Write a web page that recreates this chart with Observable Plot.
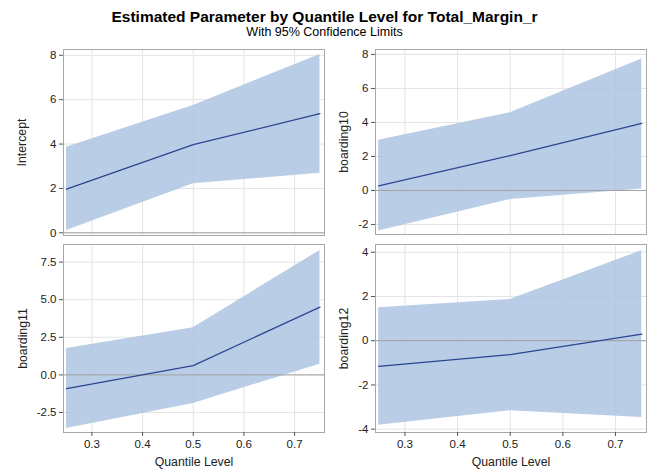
<!DOCTYPE html>
<html>
<head>
<meta charset="utf-8">
<script src="https://cdn.jsdelivr.net/npm/d3@7"></script>
<script src="https://cdn.jsdelivr.net/npm/@observablehq/plot@0.6"></script>
<style>
  html, body { margin: 0; padding: 0; background: #fff; }
  #wrap { position: relative; width: 649px; height: 470px; font-family: "Liberation Sans", Arial, sans-serif; overflow: hidden; }
  #title { position: absolute; left: 0; top: 8px; width: 649px; text-align: center; font-weight: bold; font-size: 15.5px; line-height: 18px; color: #000; }
  #subtitle { position: absolute; left: 0; top: 25px; width: 649px; text-align: center; font-size: 12.5px; line-height: 15px; color: #000; }
  .panel { position: absolute; }
</style>
</head>
<body>
<div id="wrap">
  <div id="title">Estimated Parameter by Quantile Level for Total_Margin_r</div>
  <div id="subtitle">With 95% Confidence Limits</div>
</div>
<script>
// Data
const quantiles = [0.25, 0.5, 0.75];

const interceptEst   = [1.97, 3.97, 5.37];
const interceptLower = [0.10, 2.21, 2.69];
const interceptUpper = [3.86, 5.74, 8.03];

const boarding10Est   = [0.27, 2.05, 3.94];
const boarding10Lower = [-2.39, -0.53, 0.08];
const boarding10Upper = [2.96, 4.57, 7.73];

const boarding11Est   = [-0.91, 0.62, 4.51];
const boarding11Lower = [-3.56, -1.90, 0.71];
const boarding11Upper = [1.75, 3.14, 8.27];

const boarding12Est   = [-1.16, -0.63, 0.30];
const boarding12Lower = [-3.82, -3.17, -3.47];
const boarding12Upper = [1.49, 1.86, 4.07];

const xTicks = [0.3, 0.4, 0.5, 0.6, 0.7];
const interceptTicks  = [0, 2, 4, 6, 8];
const boarding10Ticks = [-2, 0, 2, 4, 6, 8];
const boarding11Ticks = [-2.5, 0, 2.5, 5, 7.5];
const boarding12Ticks = [-4, -2, 0, 2, 4];

const xLabel = "Quantile Level";

function rows(est, lo, hi) {
  return quantiles.map((q, i) => ({q, est: est[i], lo: lo[i], hi: hi[i]}));
}

const panels = [
  {name: "Intercept", data: rows(interceptEst, interceptLower, interceptUpper), yDomain: [-0.12, 8.26], ticks: interceptTicks, fmt: d => String(d),
   left: 0, top: 40, width: 330, height: 205, ml: 63, mr: 6, mt: 9, mb: 10, labelOffset: 46, bottom: false},
  {name: "boarding10", data: rows(boarding10Est, boarding10Lower, boarding10Upper), yDomain: [-2.59, 8.29], ticks: boarding10Ticks, fmt: d => String(d),
   left: 320, top: 40, width: 329, height: 205, ml: 55, mr: 3, mt: 9, mb: 11, labelOffset: 36, bottom: false},
  {name: "boarding11", data: rows(boarding11Est, boarding11Lower, boarding11Upper), yDomain: [-3.83, 8.67], ticks: boarding11Ticks, fmt: d => d.toFixed(1),
   left: 0, top: 240, width: 330, height: 230, ml: 63, mr: 6, mt: 4, mb: 38, labelOffset: 45, bottom: true},
  {name: "boarding12", data: rows(boarding12Est, boarding12Lower, boarding12Upper), yDomain: [-4.15, 4.35], ticks: boarding12Ticks, fmt: d => String(d),
   left: 320, top: 240, width: 329, height: 230, ml: 55, mr: 3, mt: 4, mb: 38, labelOffset: 36, bottom: true}
];

const wrap = document.getElementById("wrap");

for (const p of panels) {
  const marks = [
    Plot.gridX(xTicks, {stroke: "#e4e4e4", strokeOpacity: 1}),
    Plot.gridY(p.ticks, {stroke: "#e4e4e4", strokeOpacity: 1}),
    Plot.areaY(p.data, {x: "q", y1: "lo", y2: "hi", fill: "#adc4e2", fillOpacity: 0.85}),
    Plot.ruleY([0], {stroke: "#a0a0a0", strokeWidth: 1}),
    Plot.lineY(p.data, {x: "q", y: "est", stroke: "#2b4590", strokeWidth: 1.3}),
    Plot.frame({stroke: "#a8a8a8"}),
    Plot.axisY(p.ticks, {
      tickFormat: p.fmt, tickSize: 4, tickPadding: 3, stroke: "#555",
      label: p.name, labelAnchor: "center", labelArrow: "none", labelOffset: p.labelOffset,
      fontSize: 11.5, fill: "#222"
    })
  ];
  if (p.bottom) {
    marks.push(Plot.axisX(xTicks, {
      tickFormat: d => d.toFixed(1), tickSize: 4, tickPadding: 3, stroke: "#555",
      label: xLabel, labelAnchor: "center", labelArrow: "none", labelOffset: 33,
      fontSize: 11.5, fill: "#222"
    }));
  } else {
    marks.push(Plot.axisX({ticks: [], label: null}));
  }
  const chart = Plot.plot({
    width: p.width, height: p.height,
    marginLeft: p.ml, marginRight: p.mr, marginTop: p.mt, marginBottom: p.mb,
    style: {fontFamily: "'Liberation Sans', Arial, sans-serif", fontSize: "12px", background: "transparent", overflow: "visible"},
    x: {domain: [0.244, 0.759]},
    y: {domain: p.yDomain},
    marks
  });
  // axis labels slightly larger than tick labels
  chart.querySelectorAll("g[aria-label='y-axis label'] text, g[aria-label='x-axis label'] text").forEach(t => t.setAttribute("font-size", "12.3"));
  chart.classList.add("panel");
  chart.style.left = p.left + "px";
  chart.style.top = p.top + "px";
  chart.style.position = "absolute";
  wrap.appendChild(chart);
}
</script>
</body>
</html>
